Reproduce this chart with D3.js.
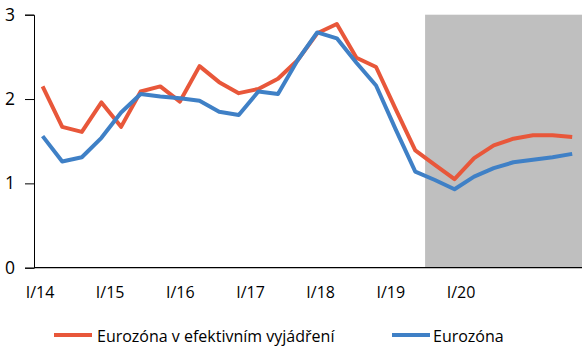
<!DOCTYPE html>
<html>
<head>
<meta charset="utf-8">
<script src="https://cdn.jsdelivr.net/npm/d3@7"></script>
<style>
  html, body { margin: 0; padding: 0; background: #fff; }
  svg { display: block; font-family: "Open Sans", sans-serif; }
</style>
</head>
<body>
<svg id="chart" width="582" height="360"></svg>
<script>
const quarters = ["I/14","II/14","III/14","IV/14","I/15","II/15","III/15","IV/15",
  "I/16","II/16","III/16","IV/16","I/17","II/17","III/17","IV/17",
  "I/18","II/18","III/18","IV/18","I/19","II/19","III/19","IV/19",
  "I/20","II/20","III/20","IV/20"];
const effective = [2.15,1.67,1.61,1.96,1.67,2.09,2.15,1.97,2.39,2.20,2.07,2.12,2.24,2.46,2.78,2.89,
  2.49,2.38,1.88,1.39,1.22,1.05,1.30,1.45,1.53,1.57,1.57,1.55];
const eurozone = [1.56,1.26,1.31,1.54,1.84,2.06,2.03,2.01,1.98,1.85,1.81,2.09,2.06,2.46,2.79,2.72,
  2.43,2.16,1.64,1.14,1.04,0.93,1.08,1.18,1.25,1.28,1.31,1.35];
const yTicks = [0,1,2,3];
const xLabels = ["I/14","I/15","I/16","I/17","I/18","I/19","I/20"];
const forecastStart = "I/19";
const seriesNames = ["Eurozóna v efektivním vyjádření","Eurozóna"];

const colors = ["#E8573A","#3F80C6"];
const svg = d3.select("#chart");
const mLeft = 34, mRight = 582, mTop = 14.7, mBottom = 267.7;

const x = d3.scaleBand().domain(quarters).range([mLeft - 1.2, mRight]).paddingInner(0).paddingOuter(0);
const y = d3.scaleLinear().domain([0,3]).range([mBottom, mTop]);
const xl = d3.scalePoint().domain(xLabels).range([39.5, 460.5]);

// forecast shading
const fi = quarters.indexOf(forecastStart);
const shadeX = x(quarters[fi]);
svg.append("rect")
  .attr("x", shadeX)
  .attr("y", y(3))
  .attr("width", mRight - shadeX)
  .attr("height", y(0) - y(3))
  .attr("fill", "#BFBFBF");

// y axis
const yAxis = svg.append("g").attr("transform", `translate(${mLeft},0)`)
  .call(d3.axisLeft(y).tickValues(yTicks).tickSize(9).tickPadding(10).tickFormat(d3.format("d")));
yAxis.select(".domain").attr("stroke", "#000").attr("stroke-width", 1);
yAxis.selectAll(".tick line").attr("stroke", "#000");
yAxis.selectAll(".tick text").attr("font-size", 17.5).attr("fill", "#000")
  .attr("font-family", "Open Sans, sans-serif");

// x axis baseline
svg.append("line").attr("x1", mLeft).attr("x2", mRight).attr("y1", y(0)).attr("y2", y(0))
  .attr("stroke", "#000").attr("stroke-width", 1.2);

// x labels
const xAxis = svg.append("g").attr("transform", `translate(0,${y(0)})`)
  .call(d3.axisBottom(xl).tickSize(0).tickPadding(19));
xAxis.select(".domain").remove();
xAxis.selectAll(".tick text").attr("font-size", 16).attr("fill", "#000")
  .attr("font-family", "Open Sans, sans-serif");

// lines
const line = d3.line().x((d,i) => x(quarters[i]) + x.bandwidth()/2).y(d => y(d));
[effective, eurozone].forEach((s, i) => {
  svg.append("path").datum(s).attr("d", line)
    .attr("fill", "none").attr("stroke", colors[i]).attr("stroke-width", 4)
    .attr("stroke-linejoin", "round");
});

// legend
const legend = [{x: 54, tx: 97}, {x: 392, tx: 433}];
seriesNames.forEach((n, i) => {
  svg.append("line").attr("x1", legend[i].x).attr("x2", legend[i].x + 38)
    .attr("y1", 335).attr("y2", 335).attr("stroke", colors[i]).attr("stroke-width", 4);
  svg.append("text").attr("x", legend[i].tx).attr("y", 336).attr("dy", "0.35em")
    .attr("font-size", 16).attr("fill", "#000").text(n);
});
</script>
</body>
</html>
